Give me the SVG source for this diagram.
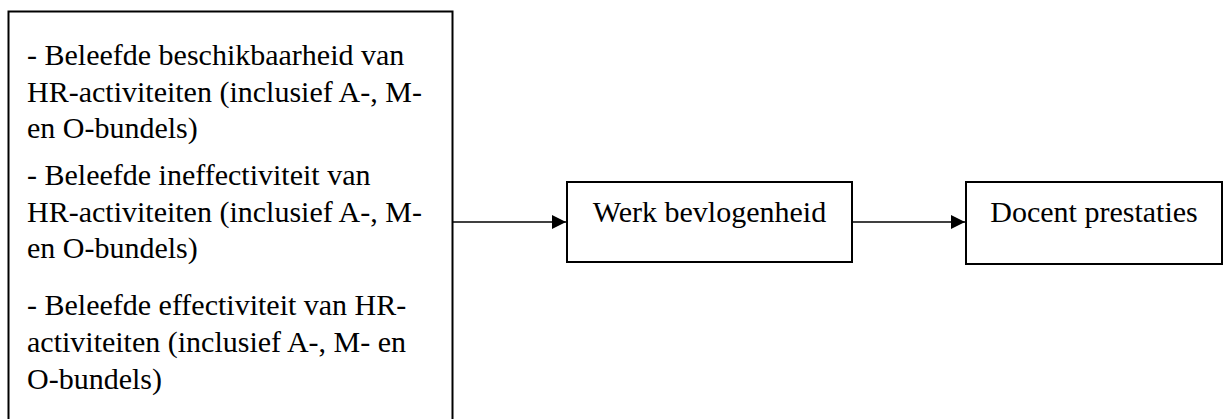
<svg xmlns="http://www.w3.org/2000/svg" width="1227" height="419" viewBox="0 0 1227 419">
<style>
.box{fill:#fff;stroke:#000;stroke-width:2}
.t{font-family:"Liberation Serif","Times New Roman",serif;font-size:30px;fill:#000}
.c{text-anchor:middle}
.conn{stroke:#000;stroke-width:1.3;fill:none}
</style>
<defs>
<marker id="ah" viewBox="0 0 10 10" refX="10" refY="5" markerWidth="14" markerHeight="14" markerUnits="userSpaceOnUse" orient="auto">
<path d="M0,0 L10,5 L0,10 Z" fill="#000"/>
</marker>
</defs>
<rect width="1227" height="419" fill="#fff"/>
<g id="connectors">
<line class="conn" x1="453" y1="222" x2="566" y2="222" marker-end="url(#ah)"/>
<line class="conn" x1="853" y1="222" x2="965" y2="222" marker-end="url(#ah)"/>
</g>
<g id="node-hr">
<rect class="box" x="8.5" y="11.5" width="444" height="420"/>
<text class="t" x="27" y="65">- Beleefde beschikbaarheid van</text>
<text class="t" x="27" y="101.5">HR-activiteiten (inclusief A-, M-</text>
<text class="t" x="27" y="138">en O-bundels)</text>
<text class="t" x="27" y="185">- Beleefde ineffectiviteit van</text>
<text class="t" x="27" y="221.5">HR-activiteiten (inclusief A-, M-</text>
<text class="t" x="27" y="258">en O-bundels)</text>
<text class="t" x="27" y="315">- Beleefde effectiviteit van HR-</text>
<text class="t" x="27" y="352">activiteiten (inclusief A-, M- en</text>
<text class="t" x="27" y="388.5">O-bundels)</text>
</g>
<g id="node-werk">
<rect class="box" x="567" y="182" width="285" height="80"/>
<text class="t c" x="709.5" y="221.5">Werk bevlogenheid</text>
</g>
<g id="node-docent">
<rect class="box" x="966" y="182" width="256" height="82"/>
<text class="t c" x="1094" y="221.5">Docent prestaties</text>
</g>
</svg>
